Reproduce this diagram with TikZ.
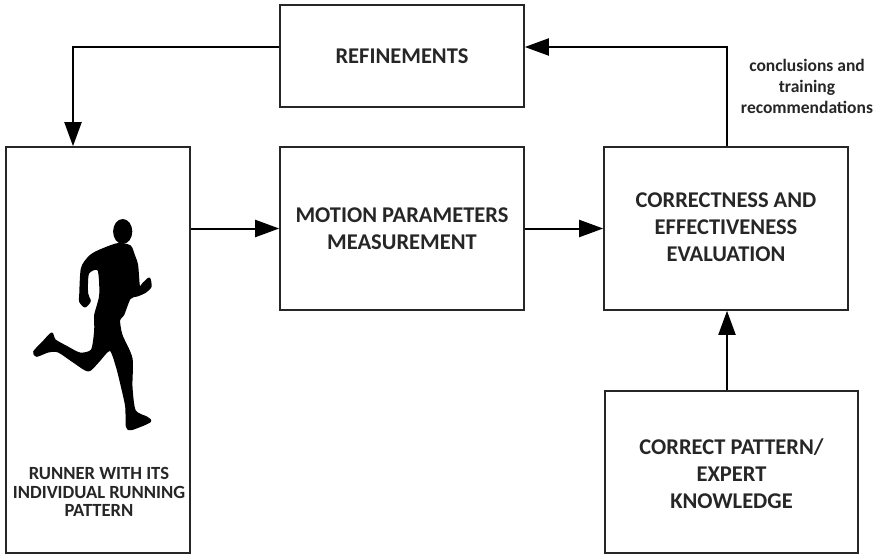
\documentclass[tikz,border=0pt]{standalone}
\usepackage{fontspec}
\setmainfont{Carlito}
\usetikzlibrary{arrows.meta}
\begin{document}
\begin{tikzpicture}[x=1pt,y=-1pt,
  block/.style={draw=black!85,line width=1.6pt,inner sep=0pt},
  btext/.style={font=\bfseries\fontsize{22.5}{27}\selectfont,align=center,text=black!85},
  flow/.style={line width=2pt,-{Triangle[length=24pt,width=17pt]}},
  note/.style={font=\bfseries\fontsize{17.5}{21}\selectfont,align=center,text=black!85}]
\useasboundingbox (0,0) rectangle (880,557);

% blocks
\node[block,minimum width=244pt,minimum height=102pt] (ref) at (402,56) {};
\node[btext] at (402,56) {REFINEMENTS};
\node[block,minimum width=184pt,minimum height=406pt] (run) at (98,350) {};
\node[block,minimum width=244pt,minimum height=163pt] (mot) at (402,228.5) {};
\node[btext] at (402,229) {MOTION PARAMETERS\\MEASUREMENT};
\node[block,minimum width=244pt,minimum height=163pt] (eva) at (726,228.5) {};
\node[btext] at (726,227) {CORRECTNESS AND\\EFFECTIVENESS\\EVALUATION};
\node[block,minimum width=253pt,minimum height=162pt] (pat) at (731.5,472) {};
\node[btext] at (731.5,474) {CORRECT PATTERN/\\EXPERT\\KNOWLEDGE};

% runner label
\node[font=\bfseries\fontsize{18.6}{18.7}\selectfont,align=center,text=black!85] (runlbl) at (99,492)
  {RUNNER WITH ITS\\INDIVIDUAL RUNNING\\PATTERN};

% runner silhouette
\fill[black] (122.7,231.5) ellipse [x radius=9.6pt, y radius=12.5pt];
\filldraw[black,line width=1.6pt,line join=round] plot[smooth cycle,tension=0.45] coordinates {
  (117.3,244) (98.3,251) (89.3,256.7) (81.7,268.3) (80,295) (80,301.7)
  (85,306.7) (90,301) (87.3,293.3) (88.3,273.3) (98.3,270) (100,295)
  (95,315) (95,330) (91.7,350) (80,353.3) (66.7,346.7) (55,340)
  (51.7,333.3) (43.3,341.7) (34,351.7) (36.7,356) (48.3,351.7) (58.3,351.7)
  (73.3,361.7) (88.3,370.7) (98.3,361.7) (110,350) (116.7,366.7) (121.7,386.7)
  (126,406.7) (126.7,426.7) (131.7,429.3) (150,421.7) (146.7,417.3) (135,410.7)
  (131.7,386.7) (131.7,358.3) (121.7,335) (119.3,320) (123.3,315) (130,298.3)
  (137.3,295.7) (145,292.3) (150.7,286.7) (149.3,278.3) (143.3,283.3) (139.3,286.7)
  (137.3,265) (134,255) (130,246)};

% note
\node[note] (lbl) at (807,86) {conclusions and\\training\\recommendations};

% connectors
\coordinate (c1) at (73,47);
\coordinate (c2) at (727,47);
\draw[flow] (ref.west |- c1) -| (run.north -| c1);
\draw[flow] (eva.north -| c2) |- (ref.east |- c2);
\draw[flow] (run.east |- mot.west) -- (mot.west);
\draw[flow] (mot.east) -- (eva.west);
\draw[flow] (pat.north -| c2) -- (eva.south -| c2);
\end{tikzpicture}
\end{document}
